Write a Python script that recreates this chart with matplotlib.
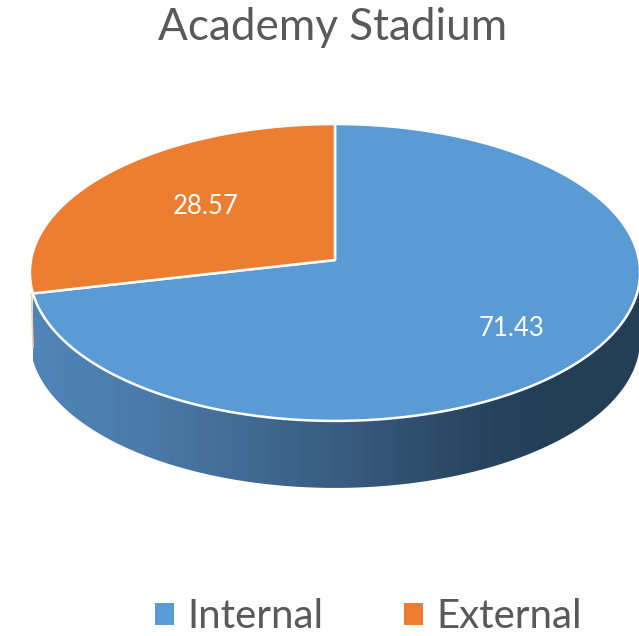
"""Academy Stadium: tilted 3D-look pie, drawn in pixel coordinates of the figure."""
import matplotlib
matplotlib.use('Agg')
import matplotlib.pyplot as plt
import numpy as np
from matplotlib.patches import Patch, Polygon

plt.rcParams['font.family'] = ['Lato', 'DejaVu Sans']

title = 'Academy Stadium'
categories = ['Internal', 'External']
values = [71.43, 28.57]
colors = ['#5b9bd5', '#ed7d31']
wall_stops = [33, 150, 340, 480, 560, 639]
wall_colors = ['#5085b8', '#4a7aa8', '#385c80', '#274560', '#233e55', '#233e55']

CX, CY = 335, 260   # apex of the slices on the top face
RX, RY = 304, 147.4
PERSP = -0.084      # near edge looks bigger than far edge
DEPTH = 67


def rim(theta):
    """Angle clockwise from 12 o'clock -> pixel position on the top-face rim."""
    u, v = np.sin(theta), np.cos(theta)
    d = 1 - PERSP * v
    return CX + RX * u / d, CY - RY * v / d


def hex_rgb(c):
    return np.array(matplotlib.colors.to_rgb(c))


fig = plt.figure(figsize=(6.39, 6.36), dpi=100)
ax = fig.add_axes([0, 0, 1, 1])

edges = np.cumsum([0] + values) / sum(values) * 2 * np.pi

# side wall, visible from the 3 o'clock point round the bottom to the left slice edge
th = np.linspace(np.pi / 2 + 0.03, edges[1], 300)
tx, ty = rim(th)
wall = Polygon(np.r_[np.c_[tx, ty], np.c_[tx, ty + DEPTH][::-1]], closed=True,
               transform=ax.transData, fc='none', ec='none')
ax.add_patch(wall)
xs = np.arange(640)
rgb = np.array([hex_rgb(c) for c in wall_colors])
grad = np.stack([np.interp(xs, wall_stops, rgb[:, i]) for i in range(3)], axis=-1)[None, :, :]
im = ax.imshow(grad, extent=(0, 639, 560, 200), aspect='auto', interpolation='bilinear', zorder=1)
im.set_clip_path(wall)

# thin orange sliver of the external slice's wall
ax.plot([31.5, 33], [294, 347], color='#f5cdb0', lw=1.2, zorder=1)

# top face
for start, stop, color in zip(edges[:-1], edges[1:], colors):
    t = np.linspace(start, stop, 240)
    x, y = rim(t)
    ax.fill(np.r_[CX, x], np.r_[CY, y], fc=color, ec='white', lw=1.8, joinstyle='round', zorder=2)

ax.text(512, 328, f'{values[0]:.2f}', color='white', fontsize=18.5, ha='center', va='center', zorder=3)
ax.text(206, 207, f'{values[1]:.2f}', color='white', fontsize=18.5, ha='center', va='center', zorder=3)

ax.text(332.5, 28, title, color='#595959', fontsize=31.8, ha='center', va='center')

handles = [Patch(fc=c, ec='none') for c in colors]
fig.legend(handles, categories, loc='lower center', bbox_to_anchor=(0.577, -0.03), ncol=2,
           frameon=False, fontsize=29, labelcolor='#595959', handlelength=0.47, handleheight=0.47,
           handletextpad=0.34, columnspacing=2.0, borderpad=0)

ax.set_xlim(0, 639)
ax.set_ylim(636, 0)
ax.axis('off')
fig.savefig('out.png', dpi=100)
